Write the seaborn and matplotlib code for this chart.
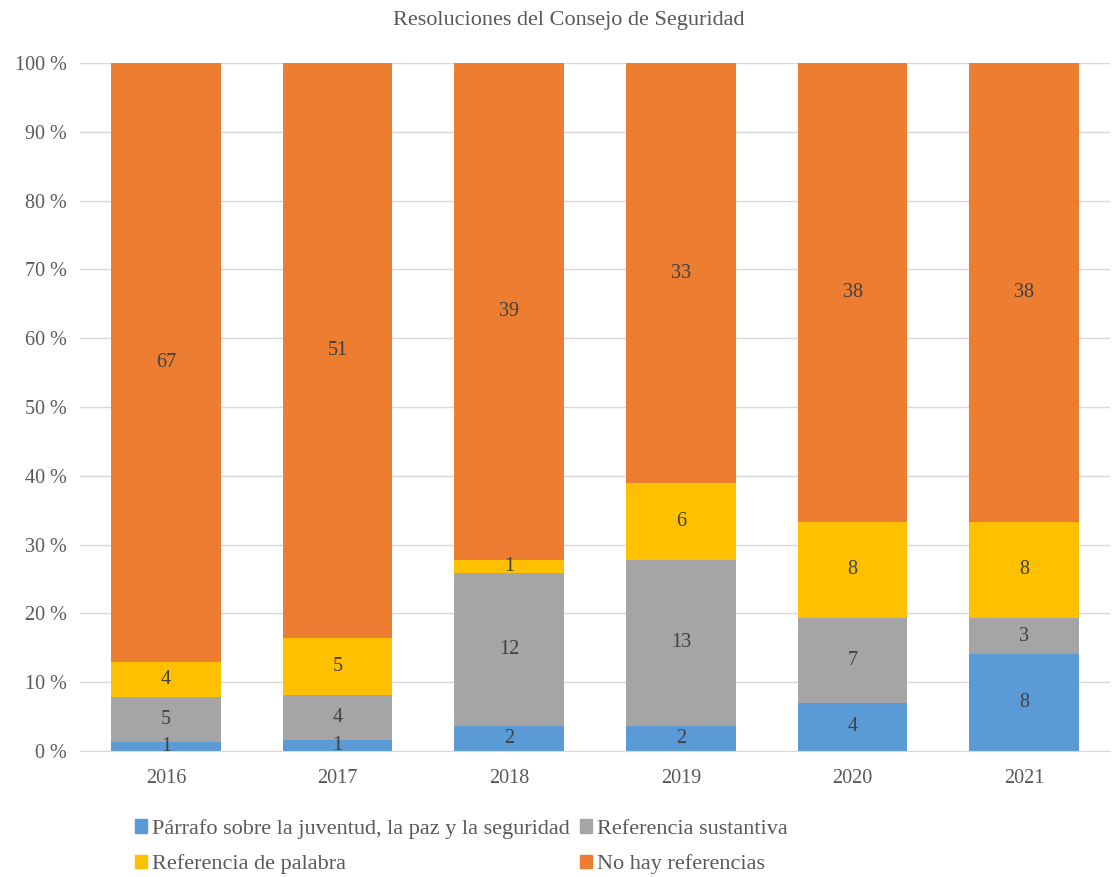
import numpy as np
import pandas as pd
import matplotlib
matplotlib.use("Agg")
import matplotlib.pyplot as plt
import seaborn as sns
from matplotlib.patches import Patch

years = ["2016", "2017", "2018", "2019", "2020", "2021"]
parrafo = [1, 1, 2, 2, 4, 8]
sustantiva = [5, 4, 12, 13, 7, 3]
palabra = [4, 5, 1, 6, 8, 8]
no_ref = [67, 51, 39, 33, 38, 38]

names = ["Párrafo sobre la juventud, la paz y la seguridad", "Referencia sustantiva",
         "Referencia de palabra", "No hay referencias"]
colors = ["#5B9BD5", "#A5A5A5", "#FFC000", "#ED7D31"]

sns.set_style("white")
plt.rcParams["font.family"] = ["Liberation Serif", "DejaVu Serif"]

counts = np.array([parrafo, sustantiva, palabra, no_ref], dtype=float)
pct = counts / counts.sum(axis=0) * 100
cum = np.cumsum(pct, axis=0)

fig = plt.figure(figsize=(11.18, 8.77), dpi=100)
ax = fig.add_axes([80 / 1118, 1 - 751 / 877, 1030 / 1118, (751 - 63) / 877])

# draw cumulative bars from top layer down
for i in range(3, -1, -1):
    df = pd.DataFrame({"year": years, "val": cum[i]})
    sns.barplot(data=df, x="year", y="val", color=colors[i], width=0.64,
                saturation=1, linewidth=0, ax=ax, zorder=2)

for j in range(len(years)):
    for i in range(4):
        lo = cum[i - 1][j] if i > 0 else 0
        ax.text(j, lo + pct[i][j] / 2, str(int(counts[i][j])), ha="center", va="center",
                fontsize=14.5, color="#404040", zorder=3)

ax.set_ylim(0, 100)
ax.set_xlim(-0.5, 5.5)
ax.set_yticks(range(0, 101, 10))
ax.set_yticklabels([f"{v} %" for v in range(0, 101, 10)])
ax.yaxis.grid(True, color="#D9D9D9", linewidth=1, zorder=0)
ax.set_axisbelow(True)
for s in ["top", "right", "left"]:
    ax.spines[s].set_visible(False)
ax.spines["bottom"].set_color("#D9D9D9")
ax.tick_params(axis="both", length=0, labelsize=14.5, colors="#595959")
ax.tick_params(axis="x", pad=13)
ax.tick_params(axis="y", pad=9.5)
ax.set_xlabel("")
ax.set_ylabel("")
fig.text(569 / 1118, 1 - 21 / 877, "Resoluciones del Consejo de Seguridad", ha="center", va="center",
         fontsize=16, color="#595959")

handles = [Patch(color=c) for c in colors]
order = [0, 2, 1, 3]
fig.legend([handles[k] for k in order], [names[k] for k in order], ncol=2,
           loc="upper left", bbox_to_anchor=(115 / 1118, 1 - 799 / 877), frameon=False,
           fontsize=16, labelcolor="#595959", handlelength=0.55, handleheight=0.55,
           handletextpad=0.23, columnspacing=0.45, labelspacing=0.7)

fig.savefig("out.png", dpi=100)
